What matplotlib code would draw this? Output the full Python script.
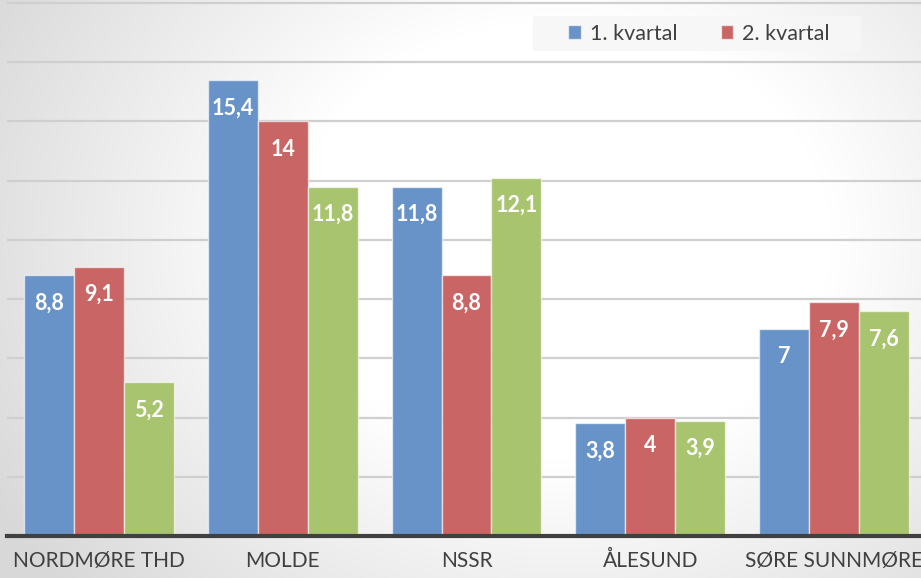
import numpy as np
import matplotlib.pyplot as plt
from matplotlib.patches import Rectangle

plt.rcParams['font.family'] = ['Lato', 'DejaVu Sans']

kategorier = ["NORDMØRE THD", "MOLDE", "NSSR", "ÅLESUND", "SØRE SUNNMØRE"]
kvartal_1 = [8.8, 15.4, 11.8, 3.8, 7.0]
kvartal_2 = [9.1, 14.0, 8.8, 4.0, 7.9]
kvartal_3 = [5.2, 11.8, 12.1, 3.9, 7.6]
serienavn = ["1. kvartal", "2. kvartal", "3. kvartal"]
farger = ["#6893C8", "#C96665", "#A8C46E"]

W, H = 921, 578
fig = plt.figure(figsize=(W / 100, H / 100), dpi=100)

# bakgrunn med radial gradient (hvit i midten, grå mot kantene)
bg = fig.add_axes([0, 0, 1, 1], zorder=-10)
yy, xx = np.mgrid[0:H, 0:W]
r = np.sqrt(((xx - 560) / 540.0) ** 2 + ((yy - 240) / 440.0) ** 2)
g = 1.0 - 0.15 * np.clip((r - 0.5) / 0.7, 0, 1)
bg.imshow(np.dstack([g, g, g]), extent=(0, W, H, 0), aspect='auto')
# bakgrunnsboks for legenden
bg.add_patch(Rectangle((533, 16), 328, 35, facecolor='#f7f7f7',
                       edgecolor='none', alpha=0.9))
bg.set_xlim(0, W)
bg.set_ylim(H, 0)
bg.axis('off')

ax = fig.add_axes([7 / W, 1 - 536 / H, 919 / W, 536 / H])
ax.patch.set_alpha(0)

x = np.arange(len(kategorier))
bredde = 0.272
serier = [kvartal_1, kvartal_2, kvartal_3]
for i, (verdier, farge) in enumerate(zip(serier, farger)):
    pos = x + (i - 1) * bredde
    lbl = serienavn[i] if i < 2 else None
    ax.bar(pos, verdier, width=bredde, color=farge, edgecolor=(1, 1, 1, 0.6),
           linewidth=1, label=lbl, zorder=3)
    for px, v in zip(pos, verdier):
        tekst = f"{v:g}".replace(".", ",")
        ax.annotate(tekst, (px, v), xytext=(0, -20), textcoords='offset points',
                    ha='center', va='center', color='white', fontsize=15.5,
                    fontweight='bold', zorder=4)

ax.set_xlim(-0.5, 4.5)
ax.set_ylim(0, 18.1)
ax.set_yticks(np.arange(2, 19, 2))
ax.yaxis.grid(True, color='#cfcfcf', linewidth=1.6, zorder=0)
ax.set_axisbelow(True)
ax.tick_params(axis='y', left=False, labelleft=False)
ax.set_xticks(x)
ax.set_xticklabels(kategorier, fontsize=15, color='#404040')
ax.tick_params(axis='x', length=0, pad=11)
for side in ['top', 'right', 'left']:
    ax.spines[side].set_visible(False)
ax.spines['bottom'].set_color('#404040')
ax.spines['bottom'].set_linewidth(3)
ax.spines['bottom'].set_zorder(5)

ax.legend(loc='center', bbox_to_anchor=(699 / W, 1 - 33.5 / H),
          bbox_transform=fig.transFigure, ncol=2, frameon=False, fontsize=15.5,
          handlelength=0.6, handleheight=0.6, handletextpad=0.4,
          columnspacing=2.0, labelcolor='#404040')

fig.savefig("out.png", dpi=100)
